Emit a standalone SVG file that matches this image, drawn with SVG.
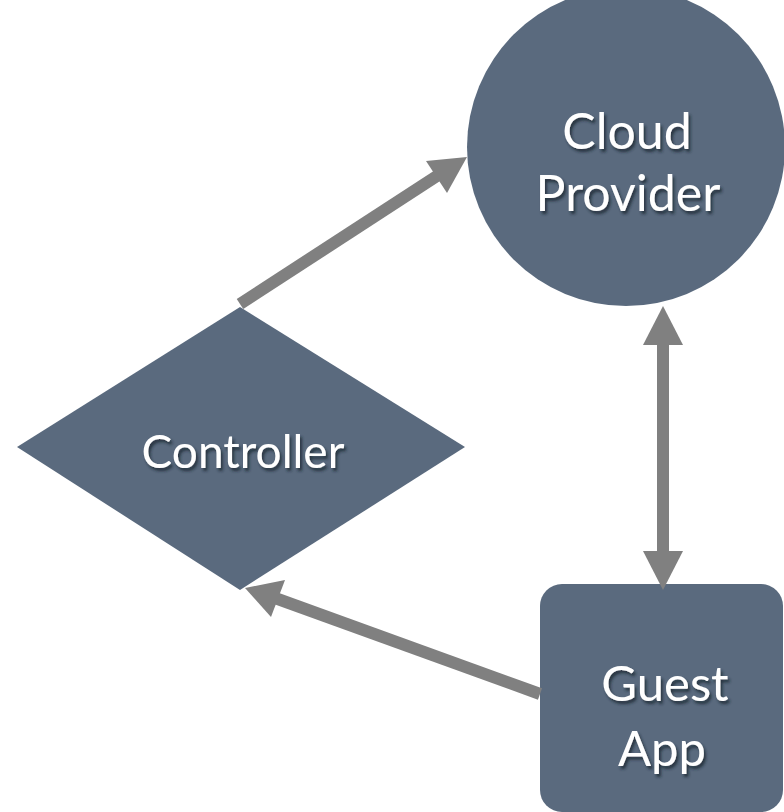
<svg xmlns="http://www.w3.org/2000/svg" width="784" height="812" viewBox="0 0 784 812">
<style>
.node{fill:#5a6a7e}
.lbl{font-family:Lato,"Open Sans","Liberation Sans",sans-serif;font-size:42px;fill:#ffffff;text-anchor:middle;filter:url(#sh)}
.edge{stroke:#808080;stroke-width:12;fill:none}
.head{fill:#808080}
</style>
<defs>
<filter id="sh" x="-20%" y="-30%" width="140%" height="160%">
<feDropShadow dx="2" dy="3" stdDeviation="1.5" flood-color="#1e2632" flood-opacity="0.8"/>
</filter>
</defs>
<rect width="784" height="812" fill="#ffffff"/>
<g id="cloud">
<circle class="node" cx="626" cy="147" r="159"/>
<text class="lbl" x="627" y="149" style="font-size:50px">Cloud</text>
<text class="lbl" x="628" y="211" style="font-size:50px">Provider</text>
</g>
<g id="controller">
<polygon class="node" points="240,307 465,447 240,590 17,447"/>
<text class="lbl" x="243" y="468" style="font-size:46px">Controller</text>
</g>
<g id="guest">
<rect class="node" x="540" y="584" width="243" height="228" rx="22"/>
<text class="lbl" x="665" y="701" style="font-size:49px">Guest</text>
<text class="lbl" x="662" y="766" style="font-size:49px">App</text>
</g>
<g id="connectors">
<line class="edge" x1="240" y1="304" x2="440" y2="174"/>
<polygon class="head" points="467,157 447,193 426,161"/>
<line class="edge" x1="663" y1="340" x2="663" y2="556"/>
<polygon class="head" points="663,306 683,345 643,345"/>
<polygon class="head" points="663,590 643,551 683,551"/>
<line class="edge" x1="540" y1="694" x2="275" y2="598"/>
<polygon class="head" points="245,588 285,580 271,617"/>
</g>
</svg>
